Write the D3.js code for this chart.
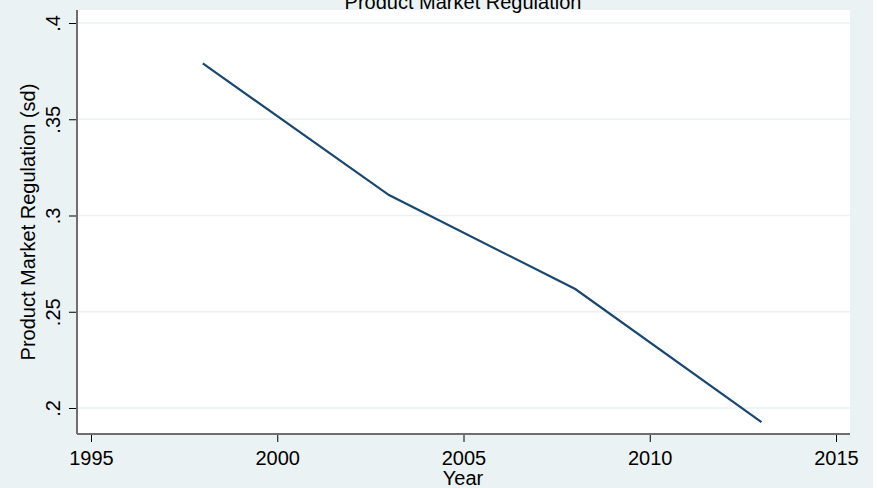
<!DOCTYPE html>
<html>
<head>
<meta charset="utf-8">
<script src="https://cdn.jsdelivr.net/npm/d3@7"></script>
<style>
  html, body { margin: 0; padding: 0; background: #ffffff; }
  svg { display: block; }
  text { font-family: "Liberation Sans", Arial, sans-serif; fill: #000; }
</style>
</head>
<body>
<svg id="chart" width="877" height="488"></svg>
<script>
const years = [1998, 2003, 2008, 2013];
const pmrSd = [0.379, 0.3106, 0.2618, 0.1927];
const xTicks = [1995, 2000, 2005, 2010, 2015];
const yTicks = [0.2, 0.25, 0.3, 0.35, 0.4];
const yTickLabels = [".2", ".25", ".3", ".35", ".4"];
const title = "Product Market Regulation";
const xTitle = "Year";
const yTitle = "Product Market Regulation (sd)";

const svg = d3.select("#chart");
const bg = "#eaf2f3";
const plot = { left: 77, right: 850, top: 10, bottom: 434 };
const fs = 20;

svg.append("rect").attr("x", 0).attr("y", 0).attr("width", 873).attr("height", 488).attr("fill", bg);
svg.append("rect").attr("x", plot.left).attr("y", plot.top)
  .attr("width", plot.right - plot.left).attr("height", plot.bottom - plot.top).attr("fill", "#ffffff");

const x = d3.scaleLinear().domain([1995, 2015]).range([91, 836]);
const y = d3.scaleLinear().domain([0.2, 0.4]).range([408, 23]);

// grid lines
svg.append("g").selectAll("line").data(yTicks).join("line")
  .attr("x1", plot.left).attr("x2", plot.right)
  .attr("y1", d => y(d)).attr("y2", d => y(d))
  .attr("stroke", bg).attr("stroke-width", 1.5);

// x axis
const xAxis = d3.axisBottom(x).tickValues(xTicks).tickFormat(d3.format("d")).tickSize(8).tickSizeOuter(0);
const gx = svg.append("g").attr("transform", `translate(0,${plot.bottom})`).call(xAxis);
gx.select(".domain").remove();
gx.selectAll(".tick line").attr("stroke", "#000").attr("stroke-width", 1);
gx.selectAll(".tick text").attr("font-size", fs).attr("font-family", "Liberation Sans, Arial, sans-serif")
  .attr("y", 31).attr("dy", null).attr("fill", "#000");
svg.append("line").attr("x1", plot.left).attr("x2", plot.right)
  .attr("y1", plot.bottom).attr("y2", plot.bottom).attr("stroke", "#6e6e6e").attr("stroke-width", 2);

// y axis
const yAxis = d3.axisLeft(y).tickValues(yTicks).tickFormat((d, i) => yTickLabels[i]).tickSize(8).tickSizeOuter(0);
const gy = svg.append("g").attr("transform", `translate(${plot.left},0)`).call(yAxis);
gy.select(".domain").remove();
gy.selectAll(".tick line").attr("stroke", "#000").attr("stroke-width", 1);
gy.selectAll(".tick text").attr("font-size", fs).attr("font-family", "Liberation Sans, Arial, sans-serif")
  .attr("x", null).attr("dy", null).attr("fill", "#000")
  .attr("text-anchor", "middle")
  .attr("transform", "translate(-17,0) rotate(-90)");
svg.append("line").attr("x1", plot.left).attr("x2", plot.left)
  .attr("y1", plot.top).attr("y2", plot.bottom).attr("stroke", "#6e6e6e").attr("stroke-width", 2);

// line
const line = d3.line().x((d, i) => x(years[i])).y(d => y(d));
svg.append("path").datum(pmrSd).attr("d", line)
  .attr("fill", "none").attr("stroke", "#1a476f").attr("stroke-width", 2.2);

// titles
svg.append("text").attr("x", 463).attr("y", 8.5).attr("text-anchor", "middle")
  .attr("font-size", fs).text(title);
svg.append("text").attr("x", 463).attr("y", 485).attr("text-anchor", "middle")
  .attr("font-size", fs).text(xTitle);
svg.append("text").attr("transform", `translate(35,${(plot.top + plot.bottom) / 2}) rotate(-90)`)
  .attr("text-anchor", "middle").attr("font-size", fs).text(yTitle);
</script>
</body>
</html>
